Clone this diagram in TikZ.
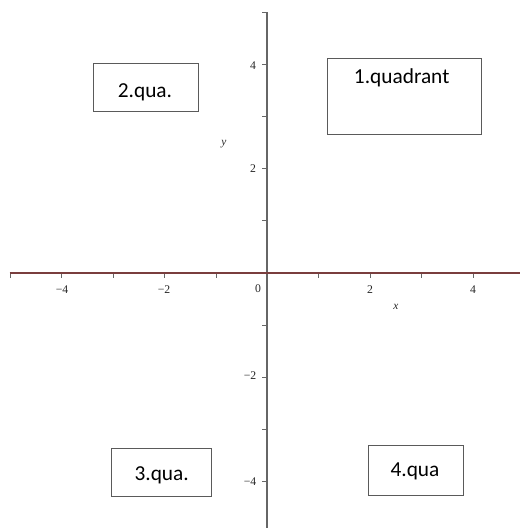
\documentclass[tikz,border=0pt]{standalone}
\usepackage{fontspec}
\setmainfont{Liberation Serif}
\newfontfamily\boxfont{Carlito}
\definecolor{xaxis}{HTML}{7A3E3E}
\definecolor{yaxis}{HTML}{666666}
\definecolor{boxline}{HTML}{5A5A5A}
\definecolor{ticklab}{HTML}{262626}
\begin{document}
\begin{tikzpicture}[x=0.75pt,y=-0.75pt,
  qbox/.style={draw=boxline, line width=0.75pt, rectangle, inner sep=0pt},
  qtext/.style={font=\boxfont\fontsize{16}{19}\selectfont, text=black, inner sep=0pt},
  ticklabel/.style={font=\fontsize{8.8}{10}\selectfont, text=ticklab, inner sep=0pt},
  axlabel/.style={font=\itshape\fontsize{8.5}{10}\selectfont, text=ticklab, inner sep=0pt},
  tickmark/.style={line width=0.7pt, draw=yaxis}]
\useasboundingbox (0,0) rectangle (520,528);
% axes
\coordinate (xl) at (9.5,273);
\coordinate (xr) at (520,273);
\coordinate (yt) at (267,12.5);
\coordinate (yb) at (267,528);
% x ticks
\foreach \i in {-5,...,4}{
  \draw[tickmark] ({267.5+51.4*\i},273) -- ({267.5+51.4*\i},278);
}
% y ticks
\foreach \j in {-4,...,5}{
  \draw[tickmark] (262,{273-52.15*\j}) -- (267,{273-52.15*\j});
}
\draw[line width=1.4pt, draw=yaxis] (yt) -- (yb);
\draw[line width=1.4pt, draw=xaxis] (xl) -- (xr);
% tick labels
\node[ticklabel] (xm4) at (62,289.5) {−4};
\node[ticklabel] (xm2) at (164,289.5) {−2};
\node[ticklabel] (x0) at (258,288.5) {0};
\node[ticklabel] (x2) at (370,289.5) {2};
\node[ticklabel] (x4) at (473,289.5) {4};
\node[axlabel] (xlab) at (396,307) {x};
\node[ticklabel] (y4) at (253,65.5) {4};
\node[ticklabel] (y2) at (253,169) {2};
\node[ticklabel] (ym2) at (250,375.5) {−2};
\node[ticklabel] (ym4) at (250,481.5) {−4};
\node[axlabel] (ylab) at (224,144) {y};
% quadrant boxes
\node[qbox, minimum width=78.75pt, minimum height=35.25pt] (q2box) at (145.8,87.5) {};
\node[qtext] (q2) at (145,92) {2.qua.};
\node[qbox, minimum width=115.5pt, minimum height=56.8pt] (q1box) at (404.7,96.2) {};
\node[qtext] (q1) at (401.7,78) {1.quadrant};
\node[qbox, minimum width=75pt, minimum height=36.3pt] (q3box) at (161.7,472.5) {};
\node[qtext] (q3) at (161.7,475) {3.qua.};
\node[qbox, minimum width=71.25pt, minimum height=37.5pt] (q4box) at (415.8,470) {};
\node[qtext] (q4) at (415,471.5) {4.qua};
\end{tikzpicture}
\end{document}
